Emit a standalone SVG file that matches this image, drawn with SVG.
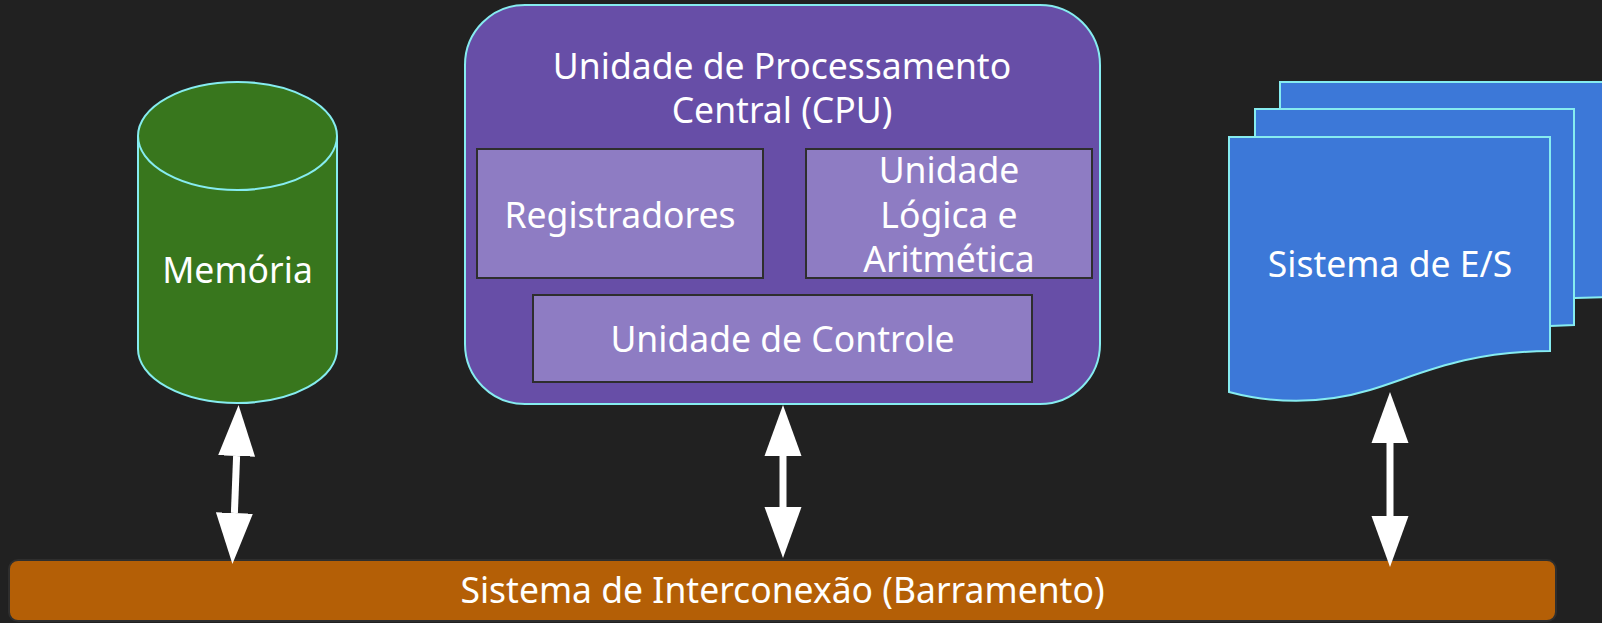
<svg xmlns="http://www.w3.org/2000/svg" width="1602" height="623" viewBox="0 0 1602 623">
  <style>
    .lbl { font-family: "Noto Sans", "Liberation Sans", sans-serif; font-size: 35.5px; fill: #ffffff; text-anchor: middle; }
    .outline { stroke: #86ecf0; stroke-width: 2; }
    .inner { fill: #8e7cc3; stroke: #2e2e2e; stroke-width: 2; }
    .conn { stroke: #ffffff; stroke-width: 7; fill: none; marker-start: url(#head); marker-end: url(#head); }
  </style>
  <defs>
    <marker id="head" markerUnits="userSpaceOnUse" viewBox="0 -19 52 38" markerWidth="52" markerHeight="38" refX="0" refY="0" orient="auto-start-reverse">
      <path d="M0,-18.5 L51,0 L0,18.5 Z" fill="#ffffff"/>
    </marker>
  </defs>
  <rect x="0" y="0" width="1602" height="623" fill="#212121"/>

  <g id="memoria">
    <path class="outline" fill="#38761d" d="M138,136 V349 A99.5,54 0 0 0 337,349 V136 A99.5,54 0 0 0 138,136 Z"/>
    <path class="outline" fill="none" d="M138,136 A99.5,54 0 0 0 337,136"/>
    <text class="lbl" x="237.5" y="283">Memória</text>
  </g>

  <g id="cpu">
    <rect class="outline" fill="#674ea7" x="465" y="5" width="635" height="399" rx="60" ry="60"/>
    <text class="lbl" x="782" y="79">Unidade de Processamento</text>
    <text class="lbl" x="782" y="123">Central (CPU)</text>
  </g>

  <g id="registradores">
    <rect class="inner" x="477" y="149" width="286" height="129"/>
    <text class="lbl" x="620" y="228">Registradores</text>
  </g>

  <g id="ula">
    <rect class="inner" x="806" y="149" width="286" height="129"/>
    <text class="lbl" x="949" y="183">Unidade</text>
    <text class="lbl" x="949" y="228">Lógica e</text>
    <text class="lbl" x="949" y="272">Aritmética</text>
  </g>

  <g id="controle">
    <rect class="inner" x="533" y="295" width="499" height="87"/>
    <text class="lbl" x="782.5" y="352">Unidade de Controle</text>
  </g>

  <g id="es">
    <path class="outline" fill="#3c78d8" d="M1280,200 V82 H1612 V297 L1575,298 L1560,298 V200 Z"/>
    <path class="outline" fill="#3c78d8" d="M1255,300 V109 H1574 V325 L1550,326 L1540,326 V300 Z"/>
    <path class="outline" fill="#3c78d8" d="M1229,137 H1550 V351 C1460,352 1420,375 1370,390 C1320,405 1270,403 1229,392 Z"/>
    <text class="lbl" x="1390" y="277">Sistema de E/S</text>
  </g>

  <g id="barramento">
    <rect fill="#b45f06" stroke="#2e2e2e" stroke-width="2" x="9" y="560" width="1547" height="61" rx="9" ry="9"/>
    <text class="lbl" x="782.5" y="603">Sistema de Interconexão (Barramento)</text>
  </g>

  <g id="connectors">
    <line class="conn" x1="236.6" y1="456" x2="234.4" y2="513"/>
    <line class="conn" x1="783" y1="456" x2="783" y2="507"/>
    <line class="conn" x1="1390" y1="443" x2="1390" y2="516"/>
  </g>
</svg>
